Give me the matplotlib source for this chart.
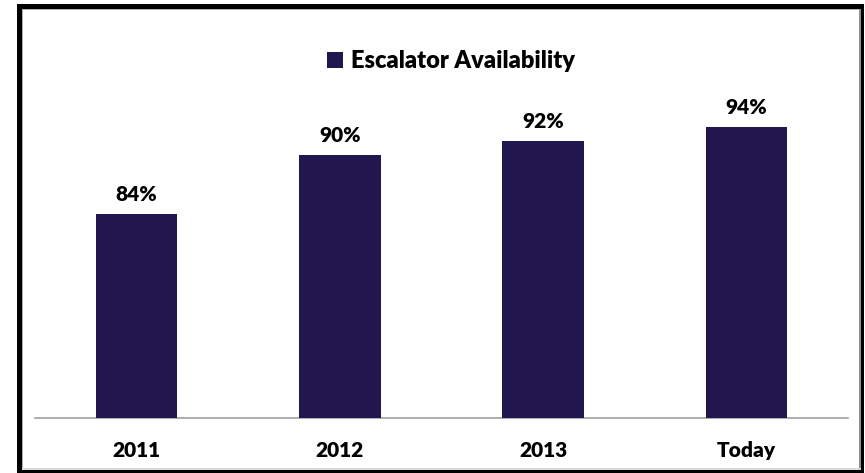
import matplotlib.pyplot as plt
from matplotlib.patches import Rectangle

# chart data
categories = ['2011', '2012', '2013', 'Today']
availability = [83.6, 90.4, 92.0, 93.6]
series_name = 'Escalator Availability'

W, H = 865, 473
plt.rcParams['font.family'] = ['Lato', 'DejaVu Sans']

fig = plt.figure(figsize=(W / 100, H / 100), dpi=100)


def px(x0, y0, x1, y1):
    # pixel box (top-left origin) -> figure fraction rect
    return (x0 / W, 1 - y1 / H, (x1 - x0) / W, (y1 - y0) / H)


# frame around the picture
for box, col in [((17, 4, 864, 9), 'black'), ((17, 4, 22, 472), 'black'),
                 ((861, 4, 864, 472), 'black'), ((17, 470, 864, 473), 'black'),
                 ((22, 9, 859, 10), '#b0b0b0'), ((22, 9, 23, 470), '#b0b0b0'),
                 ((859, 9, 861, 470), '#909090'), ((22, 468, 861, 470), '#d8d8d8')]:
    x, y, w, h = px(*box)
    fig.patches.append(Rectangle((x, y), w, h, transform=fig.transFigure,
                                 facecolor=col, edgecolor='none', zorder=10))

ax = fig.add_axes(px(35, 60, 848, 418.3))
bars = ax.bar(range(len(categories)), availability, width=0.4,
              color='#22164F', label=series_name, zorder=3)
ax.set_xlim(-0.5, 3.5)
ax.set_ylim(60, 101.3)

for b, v in zip(bars, availability):
    ax.annotate(f'{round(v)}%', (b.get_x() + b.get_width() / 2, v),
                xytext=(0, 7), textcoords='offset points', ha='center',
                va='bottom', fontsize=15, fontweight='heavy')

ax.set_xticks(range(len(categories)))
ax.set_xticklabels(categories, fontsize=15, fontweight='heavy')
ax.tick_params(axis='x', length=0, pad=16)
ax.set_yticks([])
for s in ['top', 'left', 'right']:
    ax.spines[s].set_visible(False)
ax.spines['bottom'].set_color('#a0a0a0')
ax.spines['bottom'].set_linewidth(1.2)

fig.legend(loc='center', bbox_to_anchor=(451 / W, 1 - 61 / H), frameon=False,
           handlelength=0.65, handleheight=0.65, handletextpad=0.35,
           prop={'size': 17, 'weight': 'heavy'})

fig.savefig('out.png', dpi=100)
